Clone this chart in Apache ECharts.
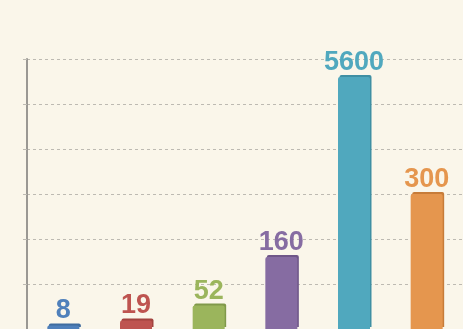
<!DOCTYPE html>
<html>
<head>
<meta charset="utf-8">
<script src="https://cdn.jsdelivr.net/npm/echarts@6/dist/echarts.min.js"></script>
<style>
  html, body { margin: 0; padding: 0; background: #FAF6EA; }
  #chart { width: 463px; height: 329px; }
</style>
</head>
<body>
<div id="chart"></div>
<script>
// Six categories; the fifth one is far larger and is plotted against its own 10x axis
const categories = ['A', 'B', 'C', 'D', 'E', 'F'];
const values = [8, 19, 52, 160, 5600, 300];
const onWideAxis = [false, false, false, false, true, false];
const barColors = ['#4F80BB', '#BE5450', '#9BB55C', '#866CA2', '#50A8BE', '#E5964E'];
const edgeColors = ['#3F6C9F', '#A2433F', '#80994A', '#6E5688', '#3F8FA3', '#C77C39'];

// Main axis 0..600 with gridlines every 100; secondary axis is ten times wider
const mainAxis = { min: 0, max: 600, interval: 100 };
const wideAxis = { min: 0, max: 6000, interval: 1000 };

function item(i) {
  return {
    value: values[i],
    itemStyle: { color: barColors[i], shadowColor: edgeColors[i] },
    label: { color: barColors[i] }
  };
}

const mainData = values.map((v, i) => onWideAxis[i] ? '-' : item(i));
const wideData = values.map((v, i) => onWideAxis[i] ? item(i) : '-');

const chart = echarts.init(document.getElementById('chart'), null, { renderer: 'canvas' });

// Bars get a thin darker rim on top and right for a slight raised look
const barBase = {
  type: 'bar',
  barWidth: 32,
  barGap: '-100%',
  itemStyle: {
    borderRadius: [2, 2, 0, 0],
    shadowBlur: 0,
    shadowOffsetX: 1.5,
    shadowOffsetY: -2
  },
  label: {
    show: true,
    position: 'top',
    distance: 1,
    fontFamily: 'Liberation Sans, Arial, sans-serif',
    fontWeight: 'bold',
    fontSize: 27
  }
};

chart.setOption({
  backgroundColor: '#FAF6EA',
  animation: false,
  grid: { left: 27, right: 0, top: 59, bottom: 0 },
  xAxis: {
    type: 'category',
    data: categories,
    axisLine: { show: false },
    axisTick: { show: false },
    axisLabel: { show: false }
  },
  yAxis: [
    {
      type: 'value',
      min: mainAxis.min,
      max: mainAxis.max,
      interval: mainAxis.interval,
      axisLine: { show: true, lineStyle: { color: '#9A9893', width: 2 } },
      axisTick: { show: true, length: 4, lineStyle: { color: '#BDBAB2', width: 1 } },
      axisLabel: { show: false },
      splitLine: { show: true, lineStyle: { color: '#BDBAB2', type: [3, 3], width: 1 } }
    },
    {
      type: 'value',
      min: wideAxis.min,
      max: wideAxis.max,
      interval: wideAxis.interval,
      show: false,
      splitLine: { show: false }
    }
  ],
  series: [
    Object.assign({}, barBase, { yAxisIndex: 0, data: mainData }),
    Object.assign({}, barBase, { yAxisIndex: 1, data: wideData })
  ]
});
</script>
</body>
</html>
